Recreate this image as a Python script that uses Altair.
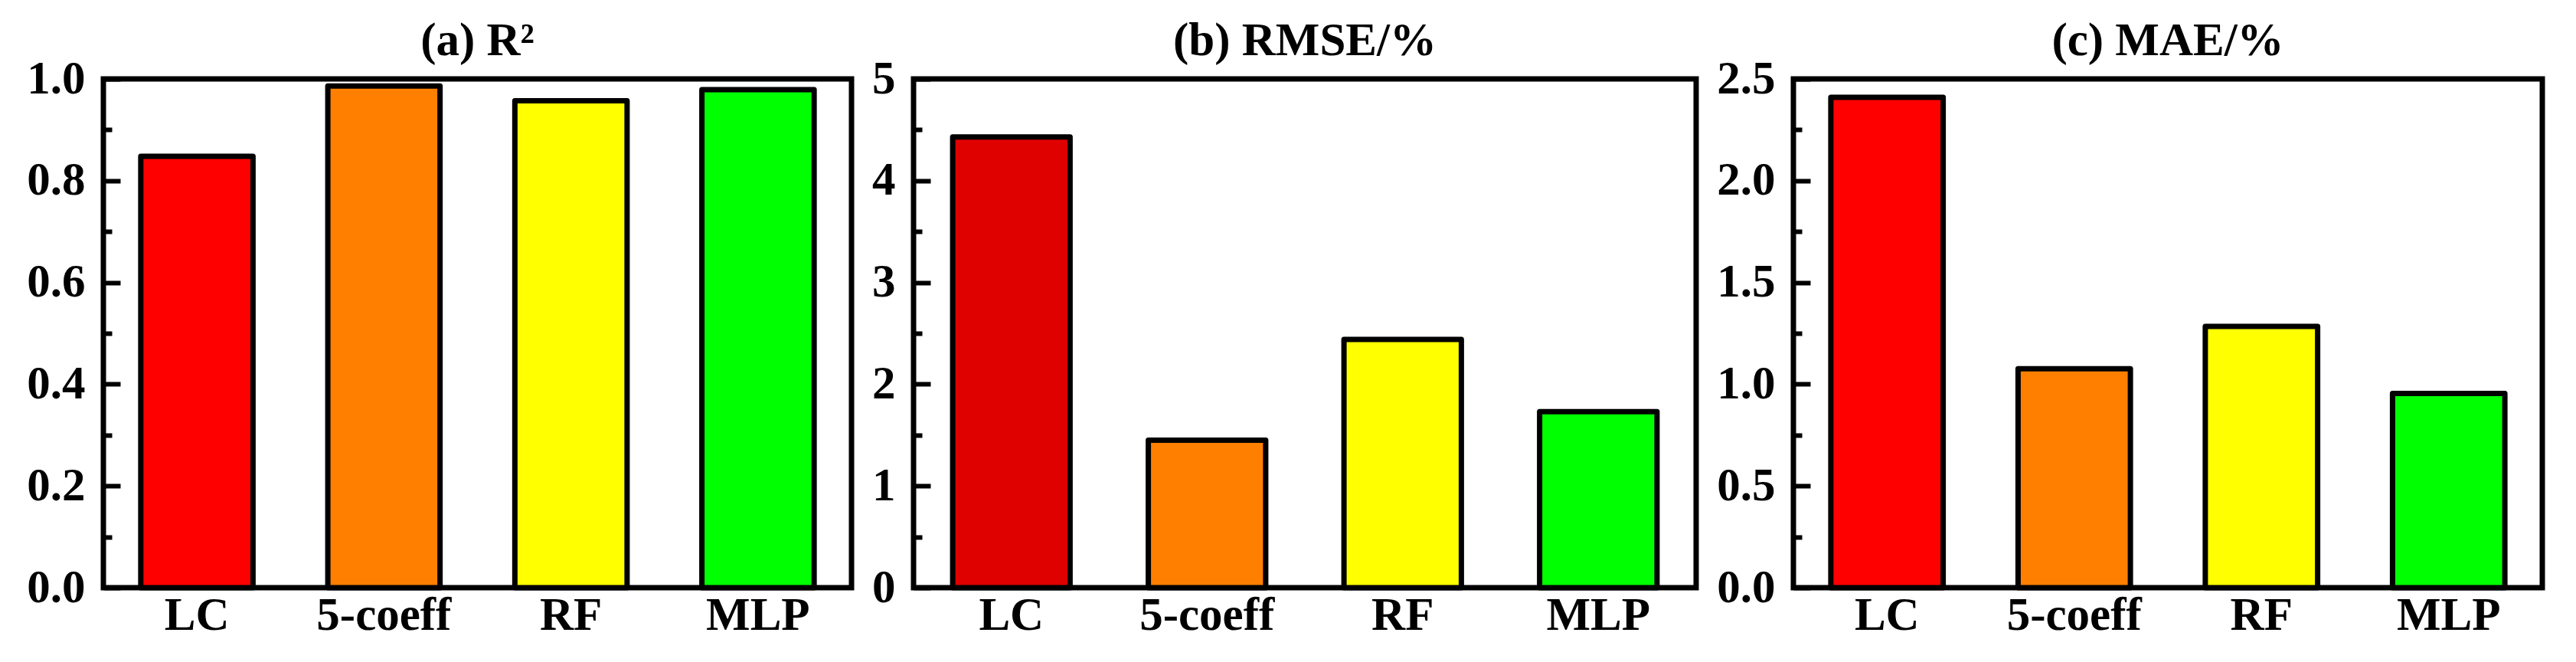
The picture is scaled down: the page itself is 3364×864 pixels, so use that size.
import altair as alt
import pandas as pd

categories = ["LC", "5-coeff", "RF", "MLP"]
r2_values = [0.848, 0.986, 0.957, 0.979]
rmse_values = [4.43, 1.45, 2.44, 1.73]
mae_values = [2.41, 1.076, 1.284, 0.954]
colors_a = ["#FF0000", "#FF8000", "#FFFF00", "#00FF00"]
colors_b = ["#DF0000", "#FF8000", "#FFFF00", "#00FF00"]
colors_c = ["#FF0000", "#FF8000", "#FFFF00", "#00FF00"]

r2_major = [0.0, 0.2, 0.4, 0.6, 0.8, 1.0]
r2_minor = [0.1, 0.3, 0.5, 0.7, 0.9]
rmse_major = [0, 1, 2, 3, 4, 5]
rmse_minor = [0.5, 1.5, 2.5, 3.5, 4.5]
mae_major = [0.0, 0.5, 1.0, 1.5, 2.0, 2.5]
mae_minor = [0.25, 0.75, 1.25, 1.75, 2.25]

FONT = "Liberation Serif"
LBL = 61


def panel(values, colors, title, dmax, major, minor, fmt, width, height):
    df = pd.DataFrame({"model": categories, "value": values, "color": colors})
    base = alt.Chart(df)
    xenc = alt.X(
        "model:N",
        sort=categories,
        scale=alt.Scale(paddingInner=0.4, paddingOuter=0.2),
        axis=alt.Axis(
            title=None, labelAngle=0, domain=False, tickSize=8, offset=-8,
            tickWidth=6, tickColor="black", labelFont=FONT, labelFontSize=LBL,
            labelFontWeight="bold", labelColor="black", labelPadding=6, grid=False,
        ),
    )
    yscale = alt.Scale(domain=[0, dmax], nice=False, zero=True)
    bars = base.mark_bar(stroke="black", strokeWidth=7, strokeJoin="round").encode(
        x=xenc,
        y=alt.Y(
            "value:Q", scale=yscale,
            axis=alt.Axis(
                title=None, values=major, format=fmt, domain=False, grid=False,
                tickSize=22, offset=-22, tickWidth=6, tickColor="black",
                labelFont=FONT, labelFontSize=LBL, labelFontWeight="bold",
                labelColor="black", labelPadding=24,
            ),
        ),
        color=alt.Color("color:N", scale=None),
    )
    minor_layer = base.mark_bar(opacity=0).encode(
        x=alt.X("model:N", sort=categories),
        y=alt.Y(
            "value:Q", scale=yscale,
            axis=alt.Axis(
                orient="left", title=None, values=minor, labels=False, domain=False,
                grid=False, tickSize=11, offset=-11, tickWidth=6, tickColor="black",
            ),
        ),
    )
    return (
        alt.layer(bars, minor_layer)
        .resolve_axis(y="independent")
        .properties(
            width=width, height=height,
            title=alt.TitleParams(
                title, font=FONT, fontSize=61, fontWeight="bold", color="black",
                baseline="alphabetic", offset=-61, anchor="middle",
            ),
        )
    )


pa = panel(r2_values, colors_a, "(a) R²", 1.0, r2_major, r2_minor, ".1f", 977, 664)
pb = panel(rmse_values, colors_b, "(b) RMSE/%", 5, rmse_major, rmse_minor, "d", 1022, 664)
pc = panel(mae_values, colors_c, "(c) MAE/%", 2.5, mae_major, mae_minor, ".1f", 978, 664)

chart = (
    alt.hconcat(pa, pb, pc, spacing=19)
    .properties(padding={"left": 23, "top": 11, "right": 0, "bottom": 0})
    .configure_view(stroke="black", strokeWidth=7)
)

chart.save("out.html", embed_options={"renderer": "svg", "actions": False})
